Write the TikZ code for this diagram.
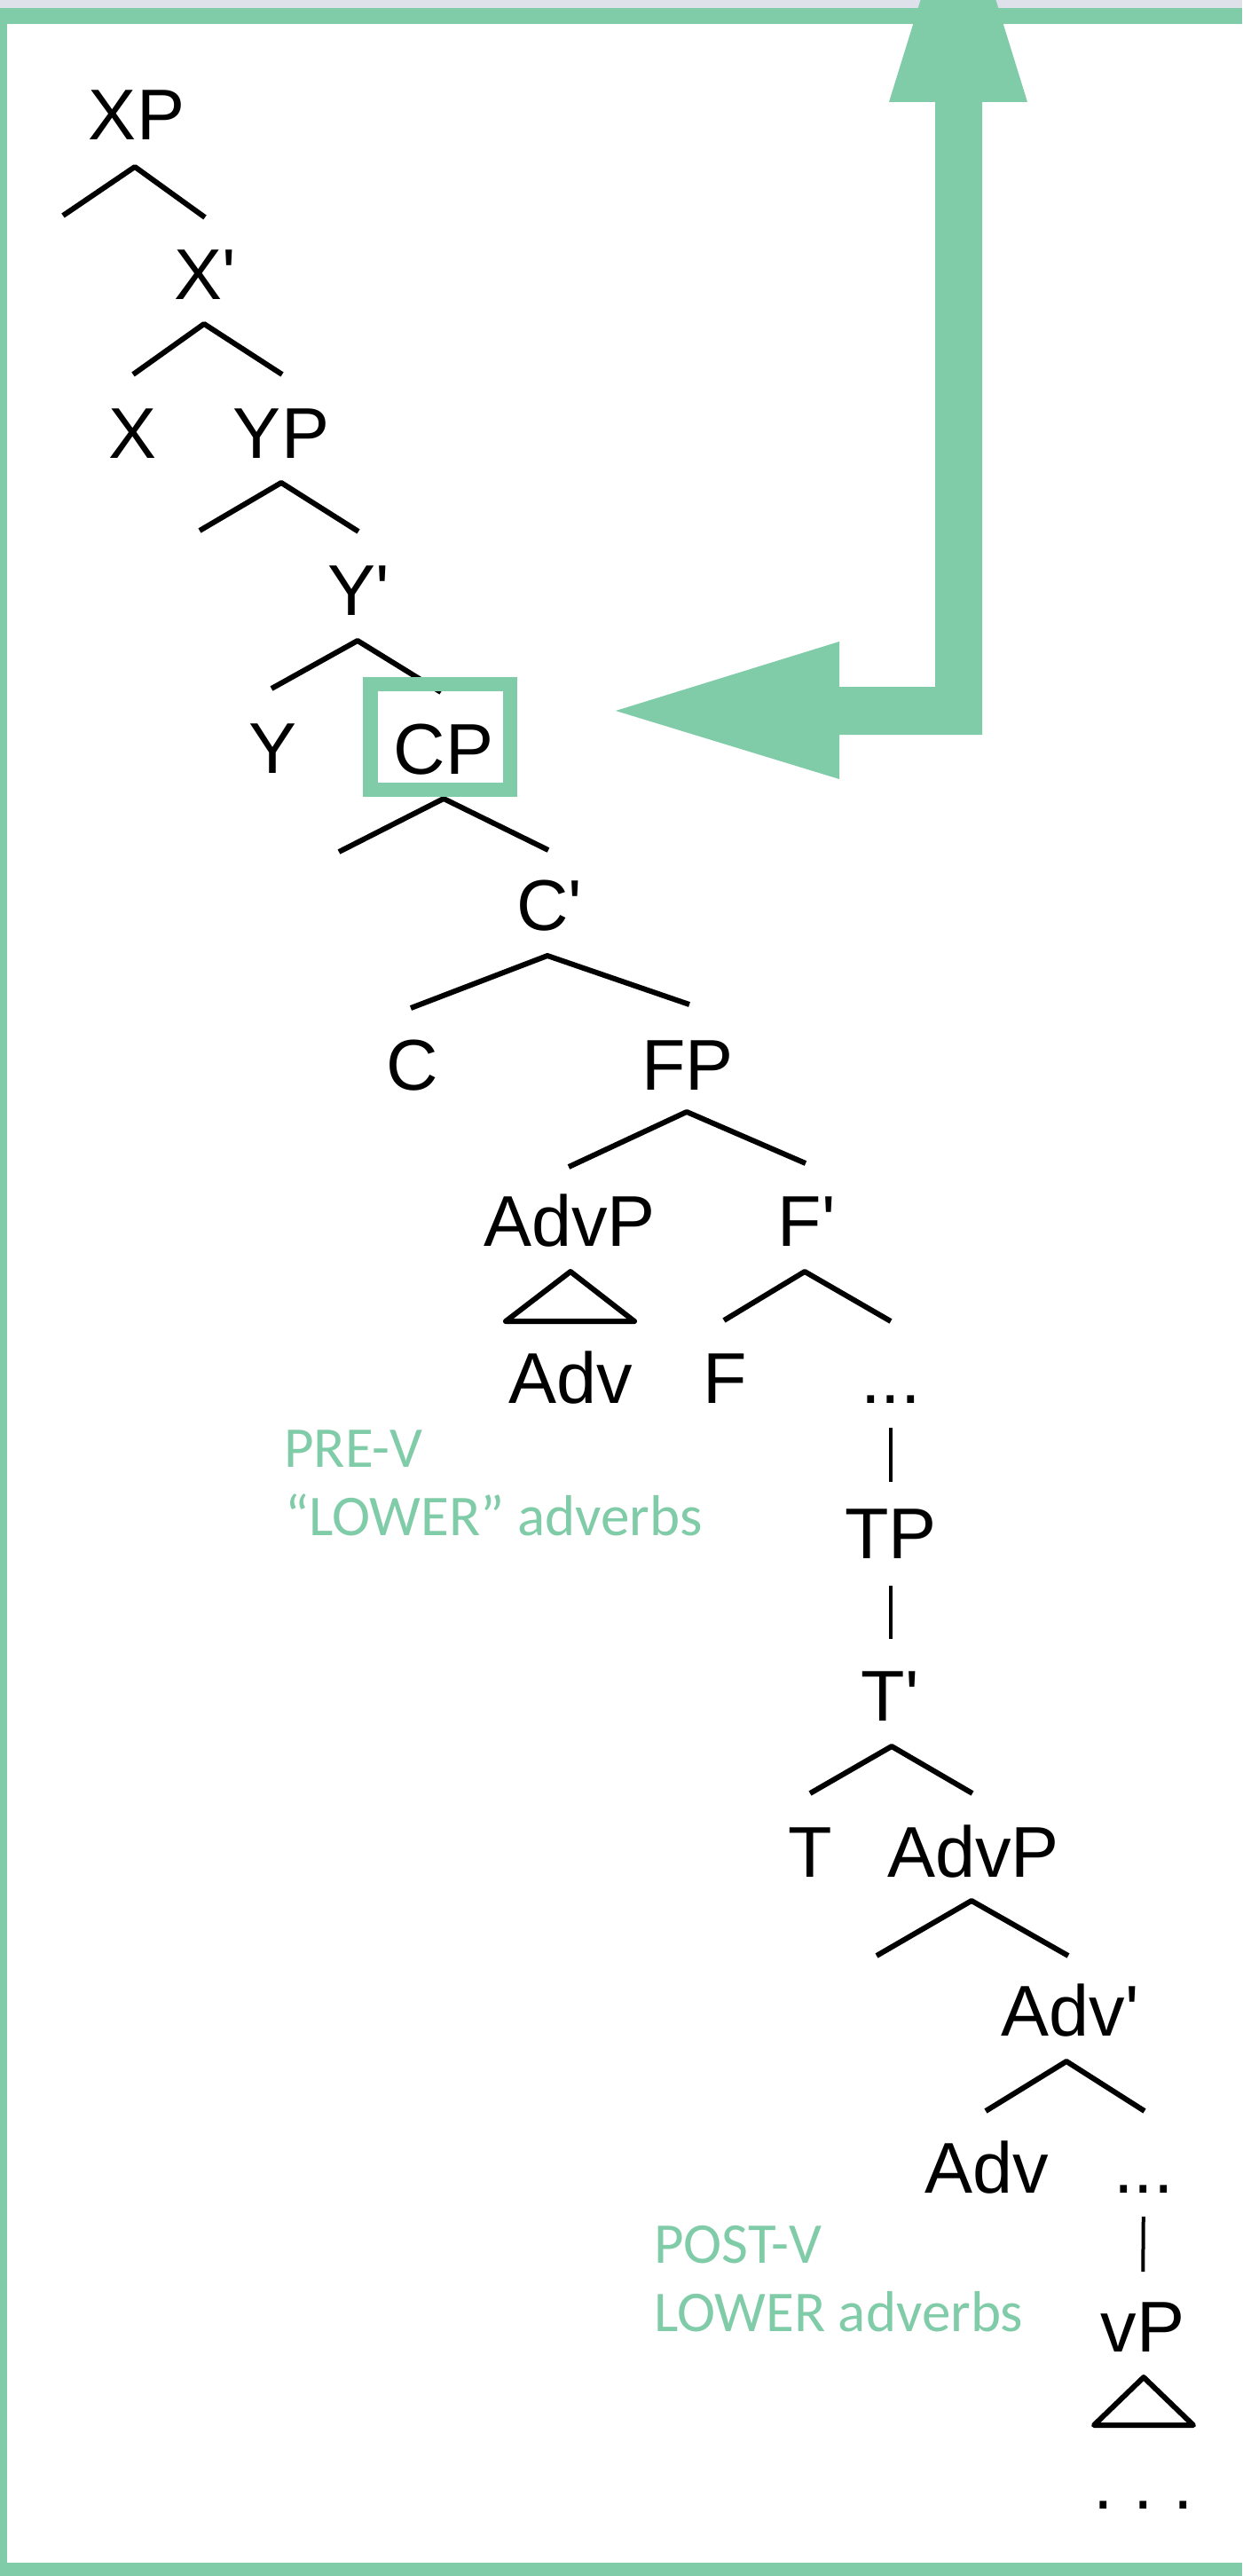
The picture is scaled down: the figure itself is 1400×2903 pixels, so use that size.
\documentclass[tikz,border=0pt]{standalone}
\usepackage{fontspec}
\newfontfamily\treefont{Liberation Sans}
\newfontfamily\notefont{Carlito}
\definecolor{hl}{RGB}{128,203,168}
\definecolor{topbar}{RGB}{222,224,234}
\begin{document}
\begin{tikzpicture}[x=1pt,y=-1pt,
  lab/.style={inner sep=0pt, anchor=base, font=\treefont\fontsize{81}{97}\selectfont},
  note/.style={inner sep=0pt, anchor=base west, text=hl, font=\notefont\fontsize{65}{78}\selectfont},
  treeline/.style={line width=6pt, line join=round},
  unary/.style={line width=4pt},
  band/.style={fill=hl, draw=none},
]
\useasboundingbox (0,0) rectangle (1400,2903);
\begin{scope}
\clip (0,0) rectangle (1400,2903);
\fill[white] (0,0) rectangle (1400,2903);
\fill[topbar] (0,0) rectangle (1400,9);
% frame (open on the right)
\fill[band] (0,9) rectangle (1400,27);
\fill[band] (0,9) rectangle (8,2903);
\fill[band] (0,2888) rectangle (1400,2903);

% ---- tree labels ----
\node[lab] (XP)   at (154,158)  {XP};
\node[lab] (X1)   at (231,337)  {X'};
\node[lab] (X)    at (150,516)  {X};
\node[lab] (YP)   at (317,516)  {YP};
\node[lab] (Y1)   at (404,693)  {Y'};
\node[lab] (Y)    at (308,871)  {Y};
\node[lab] (CP)   at (500,872)  {CP};
\node[lab] (C1)   at (619,1048) {C'};
\node[lab] (C)    at (465,1228) {C};
\node[lab] (FP)   at (775,1228) {FP};
\node[lab] (AdvPa) at (642,1404) {AdvP};
\node[lab] (F1)   at (909,1404) {F'};
\node[lab] (Adva) at (643,1581) {Adv};
\node[lab] (F)    at (817,1581) {F};
\node[lab] (dotsa) at (1004,1581) {...};
\node[lab] (TP)   at (1004,1756) {TP};
\node[lab] (T1)   at (1003,1939) {T'};
\node[lab] (T)    at (913,2115) {T};
\node[lab] (AdvPb) at (1097,2115) {AdvP};
\node[lab] (Adv1) at (1206,2294) {Adv'};
\node[lab] (Advb) at (1112,2471) {Adv};
\node[lab] (dotsb) at (1289,2471) {...};
\node[lab] (vP)   at (1288,2650) {vP};
\node[lab] (dotsc) at (1289,2827) {.\ .\ .};

% ---- branch points ----
\coordinate (XP-a) at (152,188);  \coordinate (XP-l) at (71,243);   \coordinate (XP-r) at (231,245);
\coordinate (X1-a) at (230,365);  \coordinate (X1-l) at (150,422);  \coordinate (X1-r) at (318,422);
\coordinate (YP-a) at (317,544);  \coordinate (YP-l) at (225,598);  \coordinate (YP-r) at (404,599);
\coordinate (Y1-a) at (403,722);  \coordinate (Y1-l) at (306,776);  \coordinate (Y1-r) at (497,780);
\coordinate (CP-a) at (500,900);  \coordinate (CP-l) at (382,960);  \coordinate (CP-r) at (618,958);
\coordinate (C1-a) at (617,1077); \coordinate (C1-l) at (463,1136); \coordinate (C1-r) at (777,1132);
\coordinate (FP-a) at (774,1253); \coordinate (FP-l) at (641,1315); \coordinate (FP-r) at (908,1311);
\coordinate (F1-a) at (907,1433); \coordinate (F1-l) at (816,1488); \coordinate (F1-r) at (1004,1489);
\coordinate (T1-a) at (1005,1968); \coordinate (T1-l) at (913,2021); \coordinate (T1-r) at (1096,2021);
\coordinate (AdvPb-a) at (1095,2142); \coordinate (AdvPb-l) at (988,2204); \coordinate (AdvPb-r) at (1204,2204);
\coordinate (Adv1-a) at (1202,2323); \coordinate (Adv1-l) at (1111,2379); \coordinate (Adv1-r) at (1290,2379);
\coordinate (AdvPa-a) at (643,1433); \coordinate (AdvPa-l) at (570,1489); \coordinate (AdvPa-r) at (715,1489);
\coordinate (vP-a) at (1289,2679); \coordinate (vP-l) at (1233,2733); \coordinate (vP-r) at (1345,2733);

\foreach \n in {XP,X1,YP,Y1,CP,C1,FP,F1,T1,AdvPb,Adv1}
  \draw[treeline] (\n-l) -- (\n-a) -- (\n-r);
\draw[treeline] (AdvPa-a) -- (AdvPa-l) -- (AdvPa-r) -- cycle;
\draw[treeline] (vP-a) -- (vP-l) -- (vP-r) -- cycle;

% unary lines
\draw[unary, shorten <=28pt, shorten >=30pt] (dotsa.south) -- (TP.north);
\draw[unary, shorten <=31pt, shorten >=36pt] (TP.south) -- (TP.south |- T1.north);
\draw[unary, shorten <=27pt, shorten >=34pt] (dotsb.south) -- (vP.north);

% ---- CP highlight box ----
\node[draw=hl, line width=16.5pt, minimum width=157.5pt, minimum height=119pt, inner sep=0pt] (cpbox) at (496,830.5) {};

% ---- green labels ----
\node[note] (pre1) at (320,1653) {PRE-V};
\node[note] (pre2) at (321,1730) {“LOWER” adverbs};
\node[note] (post1) at (737,2550) {POST-V};
\node[note] (post2) at (737,2627) {LOWER adverbs};

% ---- movement arrow ----
\fill[hl] (1080,-137) -- (1158,115) -- (1107,115) -- (1107,828) -- (946,828)
  -- (946,878) -- (694,801) -- (946,723) -- (946,774) -- (1054,774)
  -- (1054,115) -- (1002,115) -- cycle;
\end{scope}
\end{tikzpicture}
\end{document}
